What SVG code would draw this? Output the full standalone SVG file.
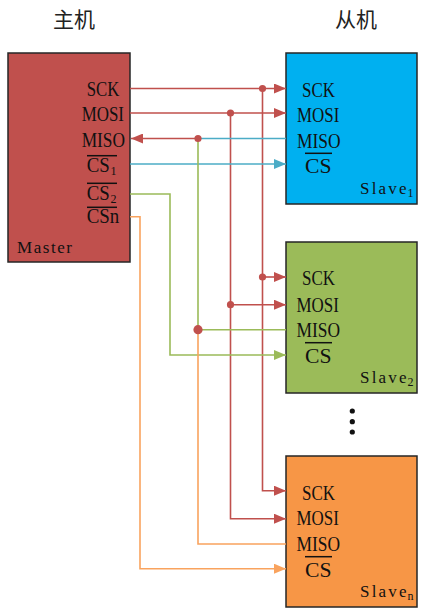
<svg xmlns="http://www.w3.org/2000/svg" width="423" height="614" viewBox="0 0 423 614">
<defs>
<style>
.box{stroke:#262626;stroke-width:1.5}
.pin{font-family:"Liberation Serif",serif;font-size:20px;fill:#111}
.sub{font-family:"Liberation Serif",serif;font-size:12px;fill:#111}
.name{font-family:"Liberation Serif",serif;font-size:17px;fill:#111}
.title{font-family:"Noto Sans CJK SC",sans-serif;font-size:21px;fill:#222}
.ov{stroke:#111;stroke-width:1.5}
.w{fill:none;stroke-width:1.6}
.r{stroke:#C0504D}
.b{stroke:#4BACC6}
.g{stroke:#9BBB59}
.o{stroke:#F9A35E}
.dot{fill:#C0504D}
</style>
<marker id="ar" viewBox="0 0 12 10" refX="12" refY="5" markerWidth="12" markerHeight="10" markerUnits="userSpaceOnUse" orient="auto"><path d="M0,0 L12,5 L0,10 Z" fill="#C0504D"/></marker>
<marker id="ab" viewBox="0 0 12 10" refX="12" refY="5" markerWidth="12" markerHeight="10" markerUnits="userSpaceOnUse" orient="auto"><path d="M0,0 L12,5 L0,10 Z" fill="#4BACC6"/></marker>
<marker id="ag" viewBox="0 0 12 10" refX="12" refY="5" markerWidth="12" markerHeight="10" markerUnits="userSpaceOnUse" orient="auto"><path d="M0,0 L12,5 L0,10 Z" fill="#9BBB59"/></marker>
<marker id="ao" viewBox="0 0 12 10" refX="12" refY="5" markerWidth="12" markerHeight="10" markerUnits="userSpaceOnUse" orient="auto"><path d="M0,0 L12,5 L0,10 Z" fill="#F9A35E"/></marker>
</defs>
<rect width="423" height="614" fill="#ffffff"/>

<g id="titles">
<text class="title" x="53" y="26.5">主机</text>
<text class="title" x="335" y="26.5">从机</text>
</g>

<g id="master">
<rect class="box" x="8" y="53" width="122" height="209" fill="#C0504D"/>
<text class="pin" x="86.7" y="95.7" textLength="32.6" lengthAdjust="spacingAndGlyphs">SCK</text>
<text class="pin" x="81.7" y="120.7" textLength="42.3" lengthAdjust="spacingAndGlyphs">MOSI</text>
<text class="pin" x="81.7" y="146.7" textLength="43.3" lengthAdjust="spacingAndGlyphs">MISO</text>
<line class="ov" x1="87" y1="155.7" x2="117" y2="155.7"/>
<text class="pin" x="86.7" y="171.7" textLength="23" lengthAdjust="spacingAndGlyphs">CS</text>
<text class="sub" x="110.5" y="175">1</text>
<line class="ov" x1="87" y1="183.3" x2="117" y2="183.3"/>
<text class="pin" x="86.7" y="200" textLength="23" lengthAdjust="spacingAndGlyphs">CS</text>
<text class="sub" x="110.5" y="203">2</text>
<line class="ov" x1="87" y1="207.3" x2="117" y2="207.3"/>
<text class="pin" x="86.7" y="223.3" textLength="32.6" lengthAdjust="spacingAndGlyphs">CSn</text>
<text class="name" x="17" y="252.7" textLength="55">Master</text>
</g>

<g id="slave1">
<rect class="box" x="286" y="53" width="131" height="151" fill="#00B0F0"/>
<text class="pin" x="302" y="97.3" textLength="33" lengthAdjust="spacingAndGlyphs">SCK</text>
<text class="pin" x="297" y="122" textLength="42.3" lengthAdjust="spacingAndGlyphs">MOSI</text>
<text class="pin" x="297" y="148.3" textLength="43.5" lengthAdjust="spacingAndGlyphs">MISO</text>
<line class="ov" x1="305" y1="153.3" x2="332" y2="153.3"/>
<text class="pin" x="305" y="172.7" textLength="26.5" lengthAdjust="spacingAndGlyphs">CS</text>
<text class="name" x="360" y="194" textLength="46.5">Slave</text>
<text class="sub" x="407.5" y="197" font-size="10">1</text>
</g>

<g id="slave2">
<rect class="box" x="286" y="242" width="131" height="151" fill="#9BBB59"/>
<text class="pin" x="302" y="285" textLength="33" lengthAdjust="spacingAndGlyphs">SCK</text>
<text class="pin" x="296.5" y="311.7" textLength="42.3" lengthAdjust="spacingAndGlyphs">MOSI</text>
<text class="pin" x="296.5" y="336.7" textLength="43.5" lengthAdjust="spacingAndGlyphs">MISO</text>
<line class="ov" x1="305" y1="342.7" x2="332" y2="342.7"/>
<text class="pin" x="305" y="362.7" textLength="26.5" lengthAdjust="spacingAndGlyphs">CS</text>
<text class="name" x="360" y="383.3" textLength="46.5">Slave</text>
<text class="sub" x="407.5" y="386.3" font-size="10">2</text>
</g>

<g id="slaveN">
<rect class="box" x="286" y="456" width="131" height="151" fill="#F79646"/>
<text class="pin" x="302" y="500" textLength="33" lengthAdjust="spacingAndGlyphs">SCK</text>
<text class="pin" x="296.5" y="525" textLength="42.3" lengthAdjust="spacingAndGlyphs">MOSI</text>
<text class="pin" x="296.5" y="550.7" textLength="43.5" lengthAdjust="spacingAndGlyphs">MISO</text>
<line class="ov" x1="305" y1="556.7" x2="332" y2="556.7"/>
<text class="pin" x="305" y="576.7" textLength="26.5" lengthAdjust="spacingAndGlyphs">CS</text>
<text class="name" x="360" y="596.7" textLength="46.5">Slave</text>
<text class="sub" x="407.5" y="599.7" font-size="10">n</text>
</g>

<g id="ellipsis" fill="#111">
<circle cx="352.3" cy="411" r="2.6"/>
<circle cx="352.3" cy="421.7" r="2.6"/>
<circle cx="352.3" cy="432" r="2.6"/>
</g>

<g id="connectors">
<path class="w r" d="M130,88.5 H286" marker-end="url(#ar)"/>
<path class="w r" d="M262.5,88.5 V490.7 H286" marker-end="url(#ar)"/>
<path class="w r" d="M262.5,277 H286" marker-end="url(#ar)"/>
<path class="w r" d="M130,113 H286" marker-end="url(#ar)"/>
<path class="w r" d="M230.5,113 V518.7 H286" marker-end="url(#ar)"/>
<path class="w r" d="M230.5,304.7 H286" marker-end="url(#ar)"/>
<path class="w r" d="M198,138.5 H131" marker-end="url(#ar)"/>
<path class="w b" d="M198,138.5 H286"/>
<path class="w b" d="M130,164 H286" marker-end="url(#ab)"/>
<path class="w g" d="M198,138.5 V329.7 H286"/>
<path class="w g" d="M130,194 H170 V355 H286" marker-end="url(#ag)"/>
<path class="w o" d="M198,329.7 V544 H286"/>
<path class="w o" d="M130,216.7 H140 V568.7 H286" marker-end="url(#ao)"/>
<circle class="dot" cx="262.5" cy="88.5" r="3.6"/>
<circle class="dot" cx="230.5" cy="113" r="3.6"/>
<circle class="dot" cx="198" cy="138.5" r="3.6"/>
<circle class="dot" cx="262.5" cy="277" r="3.6"/>
<circle class="dot" cx="230.5" cy="304.7" r="3.6"/>
<circle class="dot" cx="198" cy="329.7" r="4.6"/>
</g>
</svg>
